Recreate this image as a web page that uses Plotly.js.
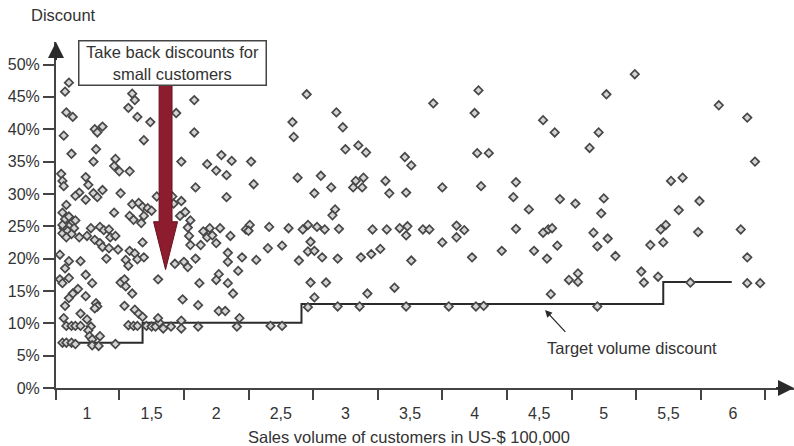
<!DOCTYPE html>
<html>
<head>
<meta charset="utf-8">
<script src="https://cdn.plot.ly/plotly-3.0.1.min.js"></script>
<style>
  html, body { margin: 0; padding: 0; background: #fff; }
  #chart { width: 794px; height: 446px; }
</style>
</head>
<body>
<div id="chart"></div>
<script>
// Customers: sales volume (US-$ 100,000) and discount granted (%)
// small customers
const volumeSmall = [0.86,0.83,1.35,1.37,1.32,0.84,0.89,1.39,1.49,1.12,1.06,1.08,0.82,1.44,1.07,0.88,1.22,1.05,1.21,1.25,1.33,0.80,0.99,0.81,1.01,0.82,0.94,1.12,1.05,1.26,0.91,1.08,1.54,0.99,0.84,1.35,1.40,1.43,1.47,1.69,
  1.21,1.50,1.33,1.36,1.42,1.44,
  0.81,0.83,0.86,0.88,0.91,0.86,0.82,0.90,0.81,0.81,0.85,0.88,0.84,
  0.94,1.00,1.03,1.10,1.13,1.17,1.18,1.22,1.06,1.10,1.12,1.17,1.24,1.43,1.33,1.37,1.39,1.44,0.79,0.86,0.95,1.15,1.30,1.32,0.83,0.99,0.79,0.81,0.86,1.04,1.26,1.29,1.30,1.35,1.55,0.93,0.89,0.86,0.83,0.99,1.07,1.08,1.06,0.95,1.00,1.29,1.37,1.40,1.43,0.82,0.84,0.88,0.91,0.95,1.03,1.01,1.02,1.04,1.10,1.32,1.36,1.39,1.46,1.50,1.53,1.56,1.59,1.65,1.55,0.81,0.84,0.88,0.91,1.04,1.09,1.22];
const discountSmall = [47.2,45.8,45.5,44.5,43.3,42.6,41.9,41.9,41.1,40.4,40.0,39.5,39.0,38.3,36.9,36.2,35.4,35.0,34.3,33.5,33.5,33.1,32.6,32.0,31.4,31.2,30.2,30.6,30.1,30.1,29.7,29.5,29.6,29.1,28.3,28.4,28.6,28.0,27.8,42.5,
  27.1,27.4,26.6,26.0,25.5,26.6,
  27.1,26.1,26.5,25.5,25.9,25.0,24.7,24.7,23.9,25.2,24.3,23.8,23.3,
  23.3,23.5,24.7,24.9,24.4,24.5,23.3,23.5,22.9,22.4,21.8,21.6,21.4,22.5,21.2,20.8,19.9,20.2,20.6,19.6,19.6,20.0,19.8,18.9,18.5,17.5,16.8,16.2,17.0,16.2,16.3,16.8,15.7,14.6,16.8,15.3,14.6,13.9,12.7,14.2,13.1,12.6,12.3,11.5,10.6,12.7,12.1,11.5,11.0,10.8,9.6,9.6,9.6,9.6,9.5,8.9,8.0,7.5,8.0,9.7,9.6,9.6,9.6,9.5,9.5,10.1,9.2,9.5,10.8,7.0,7.0,7.0,6.8,6.6,6.5,6.8];

// medium customers
const volumeMedium = [1.83,1.83,1.73,2.04,2.12,2.27,1.93,2.00,2.08,2.29,1.84,2.08,1.66,1.73,1.67,1.76,1.72,1.80,1.78,1.79,1.80,1.88,1.90,1.93,1.95,1.97,2.00,2.03,2.11,2.23,2.26,2.25,2.41,2.56,2.40,2.51,1.68,1.75,1.78,1.84,2.09,2.09,2.20,2.31,2.17,2.02,2.00,1.87,2.09,2.13,1.74,1.86,2.02,2.07,2.18,1.73,1.73,1.86,2.16,2.42,2.51];
const discountMedium = [44.5,39.5,35.0,36.0,35.1,35.0,34.6,33.6,32.9,31.5,31.0,29.5,29.6,28.9,28.5,27.2,26.6,25.9,24.8,23.5,22.1,22.1,24.2,23.3,24.7,23.6,22.4,24.7,23.5,24.5,25.2,24.3,24.9,24.7,21.6,22.0,19.2,19.5,18.7,20.0,20.9,19.5,20.2,19.8,18.1,17.6,16.7,16.2,16.2,14.6,13.7,12.8,11.9,11.9,10.8,10.4,9.2,9.5,9.5,9.6,9.6];

// large customers
const volumeLarge = [2.70,4.03,3.68,2.93,4.00,2.59,4.53,2.60,2.98,3.00,3.10,3.16,3.46,3.51,4.02,4.11,2.63,2.81,2.89,3.08,3.14,3.06,3.13,3.31,3.75,4.05,4.32,2.76,3.34,3.47,4.30,4.42,2.92,2.90,2.67,2.71,2.78,2.84,2.95,3.21,3.32,3.42,3.48,3.47,3.60,3.65,3.86,3.92,3.86,3.75,4.32,4.53,4.57,4.60,2.73,2.71,2.76,2.82,2.64,2.94,3.12,3.20,3.27,3.51,3.98,4.21,4.46,4.56,4.64,2.73,2.85,3.17,3.38,2.76,2.71,2.94,3.11,3.47,3.80,4.01,4.07,4.59,5.24,5.02,4.62,4.96,4.89,5.89,6.11,6.17,5.52,5.61,4.66,4.78,5.00,4.98,5.58,5.74,4.92,4.95,5.03,5.09,5.44,5.48,5.36,5.46,5.73,6.06,6.11,4.80,4.73,4.80,5.29,5.42,5.31,5.67,6.11,6.21,4.95];
const discountLarge = [45.4,46.0,44.0,42.6,42.5,41.1,41.4,38.8,40.3,36.9,37.5,36.4,35.7,34.4,36.3,36.3,32.5,32.8,31.0,32.0,32.5,31.0,31.0,32.0,31.0,31.2,31.8,30.1,30.1,30.2,29.5,27.6,27.6,26.7,24.5,25.2,24.9,24.5,24.6,24.5,24.5,24.7,25.0,23.6,24.5,24.5,25.1,24.4,23.3,22.5,24.6,24.0,24.5,24.7,22.6,21.1,21.2,20.2,19.7,20.0,20.2,20.7,21.5,19.7,20.2,21.2,21.2,20.0,22.0,16.3,16.3,14.6,15.5,14.0,12.5,12.6,12.6,12.6,12.6,12.6,12.7,14.5,48.5,45.4,39.5,39.5,37.1,43.7,41.8,35.0,32.0,32.5,29.2,28.5,29.3,27.0,27.5,28.9,24.0,21.9,23.1,20.4,24.5,25.2,22.1,22.5,24.1,24.5,20.2,17.7,16.7,16.4,18.0,17.2,16.3,16.3,16.2,16.2,12.6];

// Target volume discount: staircase breakpoints
const targetVolume = [0.79, 1.43, 2.66, 5.46, 5.99];
const targetDiscount = [7.0, 10.1, 13.0, 16.4, 16.4];

// Axis ticks
const xLabelVals = [1, 1.5, 2, 2.5, 3, 3.5, 4, 4.5, 5, 5.5, 6];
const xLabelText = ['1', '1,5', '2', '2,5', '3', '3,5', '4', '4,5', '5', '5,5', '6'];
const xTickMarks = [0.76, 1.25, 1.75, 2.25, 2.75, 3.25, 3.75, 4.25, 4.75, 5.25, 5.75, 6.25];
const yTickVals = [0, 5, 10, 15, 20, 25, 30, 35, 40, 45, 50];
const yTickText = ['0%', '5%', '10%', '15%', '20%', '25%', '30%', '35%', '40%', '45%', '50%'];

const X_RANGE = [0.76, 6.472];
const Y_RANGE = [0, 53.48];

const INK = '#333333';
const AXIS = '#444444';
const FONT = 'Liberation Sans, Arial, sans-serif';

const salesVolume = volumeSmall.concat(volumeMedium, volumeLarge);
const discountPct = discountSmall.concat(discountMedium, discountLarge);

const traces = [
  {
    type: 'scatter', mode: 'lines',
    x: targetVolume, y: targetDiscount,
    line: { shape: 'hv', color: '#2b2b2b', width: 2 },
    hoverinfo: 'skip'
  },
  {
    type: 'scatter', mode: 'markers',
    x: salesVolume, y: discountPct,
    marker: {
      symbol: 'diamond', size: 6.5, color: '#d4d4d4',
      line: { color: '#474747', width: 1.7 }
    }
  }
];

// Red arrow pointing down at the small customers
const red = { x: 1.608, top: 47.5, neck: 25.7, tip: 18.3, shaft: 0.05, head: 0.093 };
const redPath = [
  'M', red.x - red.shaft, red.top,
  'L', red.x + red.shaft, red.top,
  'L', red.x + red.shaft, red.neck,
  'L', red.x + red.head, red.neck,
  'L', red.x, red.tip,
  'L', red.x - red.head, red.neck,
  'L', red.x - red.shaft, red.neck, 'Z'
].join(' ');

const layout = {
  width: 794, height: 446,
  margin: { l: 56, r: 0, t: 42, b: 58 },
  paper_bgcolor: '#ffffff', plot_bgcolor: '#ffffff',
  showlegend: false,
  font: { family: FONT, color: INK, size: 16 },
  xaxis: {
    range: X_RANGE, tickmode: 'array',
    tickvals: xLabelVals, ticktext: xLabelText,
    ticks: 'outside', ticklen: 10, tickcolor: 'rgba(0,0,0,0)',
    tickfont: { size: 16, color: INK },
    minor: { tickmode: 'array', tickvals: xTickMarks, ticks: 'outside', ticklen: 10, tickwidth: 2, tickcolor: AXIS, showgrid: false },
    showline: true, linecolor: AXIS, linewidth: 2,
    showgrid: false, zeroline: false, fixedrange: true
  },
  yaxis: {
    range: Y_RANGE, tickmode: 'array', tickvals: yTickVals, ticktext: yTickText,
    ticks: 'outside', ticklen: 11, tickwidth: 2, tickcolor: AXIS,
    tickfont: { size: 16, color: INK },
    showline: true, linecolor: AXIS, linewidth: 2,
    showgrid: false, zeroline: false, fixedrange: true
  },
  shapes: [
    {
      type: 'path', xref: 'x', yref: 'y', layer: 'above', path: redPath,
      fillcolor: '#8c1c2e', line: { color: '#6a1220', width: 1 }
    }
  ],
  annotations: [
    // axis arrowheads
    {
      xref: 'x', yref: 'y', axref: 'x', ayref: 'y',
      x: X_RANGE[1], y: 0, ax: X_RANGE[1] - 0.15, ay: 0,
      text: '', showarrow: true, arrowhead: 2, arrowsize: 1.6, arrowwidth: 2, arrowcolor: '#2b2b2b'
    },
    {
      xref: 'x', yref: 'y', axref: 'x', ayref: 'y',
      x: X_RANGE[0], y: Y_RANGE[1], ax: X_RANGE[0], ay: Y_RANGE[1] - 3,
      text: '', showarrow: true, arrowhead: 2, arrowsize: 1.6, arrowwidth: 2, arrowcolor: '#2b2b2b'
    },
    // axis titles
    {
      xref: 'paper', yref: 'paper', x: -0.0366, y: 1.078,
      xanchor: 'left', yanchor: 'middle', showarrow: false,
      text: 'Discount', font: { size: 16.5, color: INK }
    },
    {
      xref: 'paper', yref: 'paper', x: 0.4777, y: -0.1416,
      xanchor: 'center', yanchor: 'middle', showarrow: false,
      text: 'Sales volume of customers in US-$ 100,000', font: { size: 16.5, color: INK }
    },
    // call-out box
    {
      xref: 'x', yref: 'y', x: 1.658, y: 50.3,
      xanchor: 'center', yanchor: 'middle', showarrow: false,
      text: 'Take back discounts for<br>small customers',
      font: { size: 16.5, color: INK }, align: 'center',
      bgcolor: '#ffffff', bordercolor: AXIS, borderwidth: 1.5, borderpad: 2,
      width: 182, height: 39
    },
    // target discount label and pointer
    {
      xref: 'x', yref: 'y', x: 5.216, y: 6.18,
      xanchor: 'center', yanchor: 'middle', showarrow: false,
      text: 'Target volume discount', font: { size: 16.5, color: INK }
    },
    {
      xref: 'x', yref: 'y', axref: 'x', ayref: 'y',
      x: 4.545, y: 12.06, ax: 4.713, ay: 8.45,
      text: '', showarrow: true, arrowhead: 2, arrowsize: 1.1, arrowwidth: 1.3, arrowcolor: '#2b2b2b'
    }
  ]
};

Plotly.newPlot('chart', traces, layout, { staticPlot: true, displayModeBar: false });
</script>
</body>
</html>
